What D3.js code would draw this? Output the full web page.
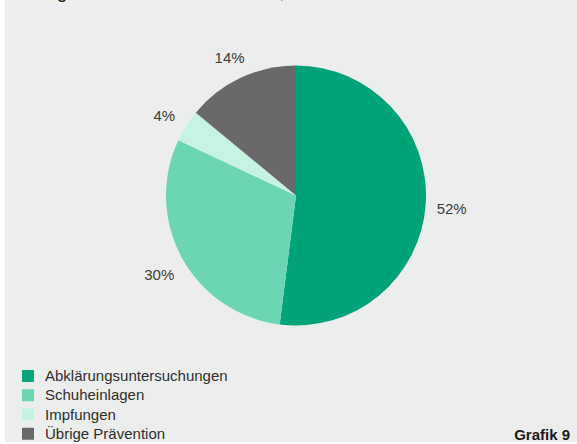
<!DOCTYPE html>
<html>
<head>
<meta charset="utf-8">
<script src="https://cdn.jsdelivr.net/npm/d3@7"></script>
<style>
  html, body { margin: 0; padding: 0; background: #fff; }
  svg { display: block; font-family: "Liberation Sans", Arial, sans-serif; }
</style>
</head>
<body>
<svg id="chart" width="577" height="444"></svg>
<script>
// chart data
const categories = ["Abklärungsuntersuchungen", "Schuheinlagen", "Impfungen", "Übrige Prävention"];
const shares = [52, 30, 4, 14];
const sliceColors = ["#00a278", "#6cd5b4", "#c6f2e0", "#69696b"];
const titleText = "Ausgaben für Prävention 2011, in 1000 Fr.";
const sourceText = "Grafik 9";

const svg = d3.select('#chart');

// panel background
svg.append('rect')
    .attr('x', 5).attr('y', 0)
    .attr('width', 572).attr('height', 442)
    .attr('fill', '#eceeed');

// title (mostly cut off above the frame, only descenders show)
svg.append('text')
    .attr('x', 24).attr('y', -2)
    .attr('font-size', 19)
    .attr('fill', '#1a1a1a')
    .text(titleText);

const cx = 296, cy = 195.5, radius = 130;

const pie = d3.pie().sort(null).value(d => d);
const arcs = pie(shares);
const arc = d3.arc().innerRadius(0).outerRadius(radius);
const labelArc = d3.arc().innerRadius(156).outerRadius(156);

const g = svg.append('g').attr('transform', `translate(${cx},${cy})`);

g.selectAll('path.slice')
    .data(arcs)
    .join('path')
    .attr('class', 'slice')
    .attr('d', arc)
    .attr('fill', (d, i) => sliceColors[i]);

g.selectAll('text.pct')
    .data(arcs)
    .join('text')
    .attr('class', 'pct')
    .attr('transform', d => `translate(${labelArc.centroid(d)})`)
    .attr('text-anchor', 'middle')
    .attr('dy', '0.6em')
    .attr('font-size', 15)
    .attr('fill', '#3c3c3c')
    .text(d => d.data + '%');

// legend
const legendY = d3.scaleBand()
    .domain(categories)
    .range([370, 447])
    .paddingInner(0);

const legend = svg.append('g');
const rows = legend.selectAll('g')
    .data(categories)
    .join('g')
    .attr('transform', d => `translate(22,${legendY(d)})`);

rows.append('rect')
    .attr('width', 12).attr('height', 12)
    .attr('fill', (d, i) => sliceColors[i]);

rows.append('text')
    .attr('x', 23).attr('y', 11)
    .attr('font-size', 15)
    .attr('fill', '#2e2e2e')
    .text(d => d);

svg.append('text')
    .attr('x', 570).attr('y', 440)
    .attr('text-anchor', 'end')
    .attr('font-size', 15)
    .attr('font-weight', 'bold')
    .attr('fill', '#1a1a1a')
    .text(sourceText);
</script>
</body>
</html>
